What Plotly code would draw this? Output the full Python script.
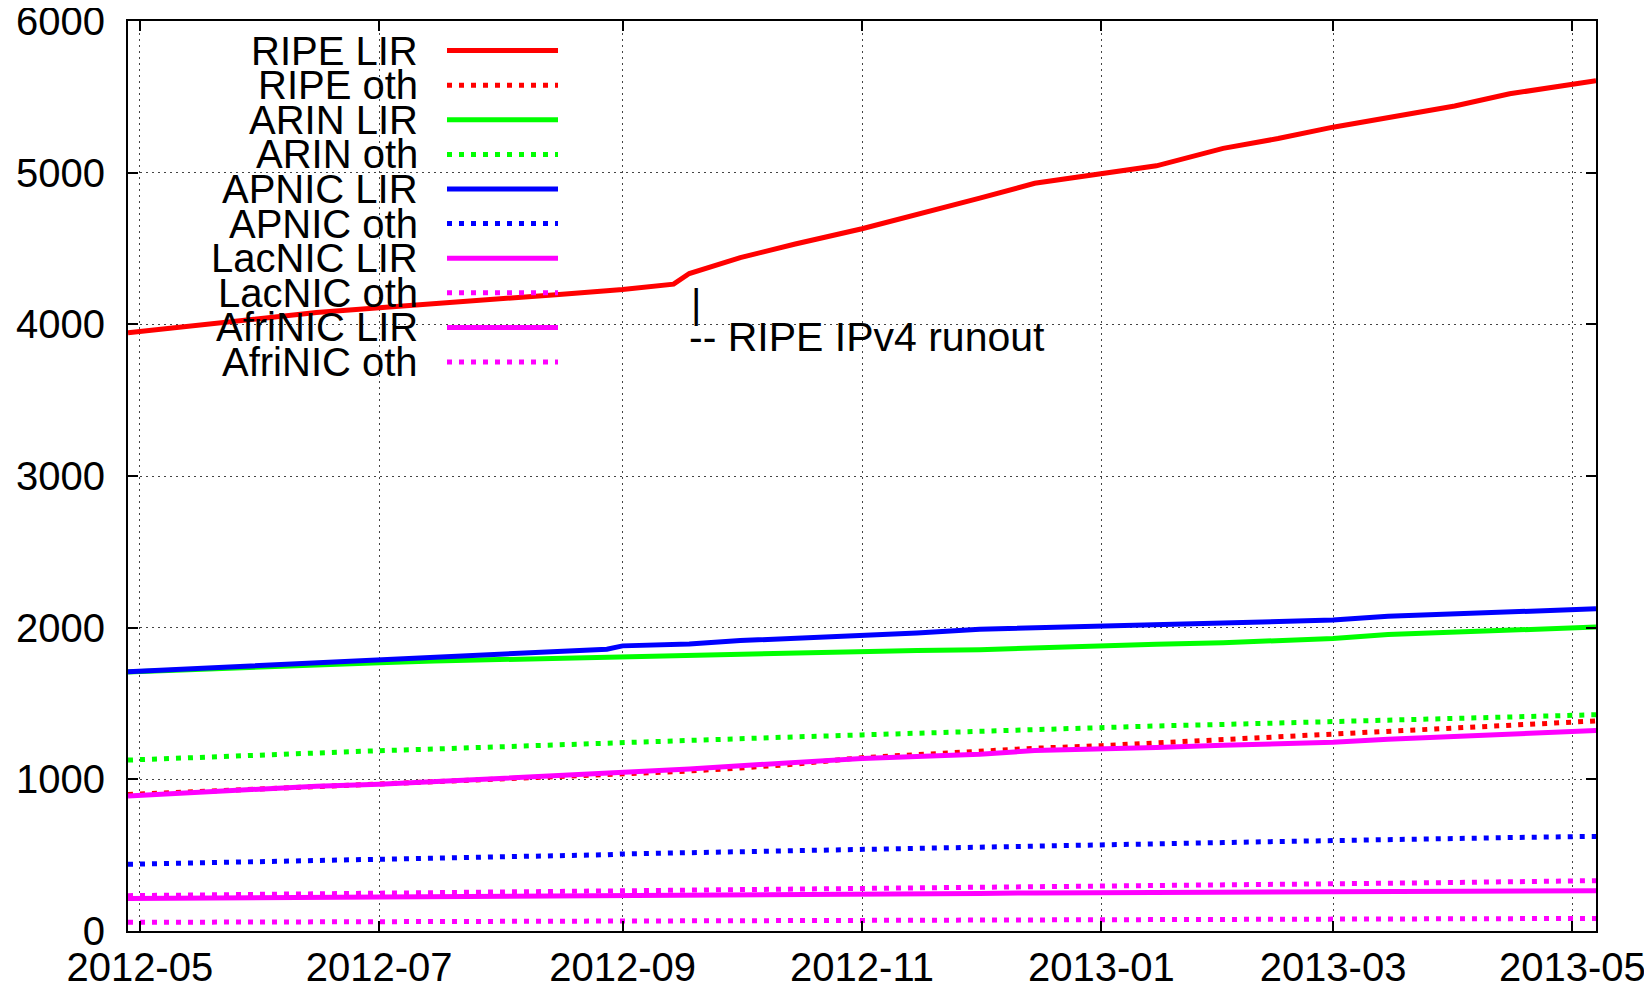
import plotly.graph_objects as go

dates = ["2012-04-28", "2012-05-15", "2012-06-01", "2012-06-15", "2012-07-01", "2012-07-15",
         "2012-08-01", "2012-08-15", "2012-08-28", "2012-09-01", "2012-09-14", "2012-09-18",
         "2012-10-01", "2012-10-15", "2012-11-01", "2012-11-15", "2012-12-01", "2012-12-15",
         "2013-01-01", "2013-01-15", "2013-02-01", "2013-02-15", "2013-03-01", "2013-03-15",
         "2013-04-01", "2013-04-15", "2013-05-01", "2013-05-07"]

ripe_lir = [3945, 3990, 4035, 4078, 4110, 4135, 4170, 4195, 4222, 4230, 4265, 4335, 4440, 4530,
            4630, 4722, 4832, 4930, 4990, 5045, 5160, 5225, 5300, 5365, 5440, 5520, 5588, 5606]
ripe_oth = [900, 918, 940, 952, 970, 985, 1000, 1015, 1032, 1038, 1050, 1055, 1075, 1100,
            1143, 1165, 1185, 1205, 1222, 1240, 1260, 1280, 1299, 1320, 1340, 1360, 1380, 1385]
arin_lir = [1708, 1725, 1745, 1755, 1769, 1780, 1790, 1800, 1806, 1808, 1812, 1814, 1825, 1835,
            1846, 1850, 1855, 1868, 1881, 1890, 1900, 1912, 1929, 1955, 1972, 1985, 2002, 2004]
arin_oth = [1127, 1145, 1162, 1172, 1189, 1200, 1215, 1230, 1244, 1248, 1256, 1258, 1268, 1280,
            1293, 1305, 1318, 1330, 1343, 1352, 1362, 1372, 1384, 1395, 1405, 1412, 1424, 1426]
apnic_lir = [1710, 1730, 1755, 1768, 1790, 1805, 1825, 1845, 1858, 1880, 1890, 1893, 1915, 1930,
             1951, 1965, 1990, 2000, 2006, 2015, 2030, 2040, 2050, 2075, 2090, 2105, 2121, 2124]
apnic_oth = [440, 448, 455, 460, 468, 475, 485, 495, 503, 508, 515, 518, 525, 530,
             538, 545, 552, 560, 567, 575, 583, 590, 598, 605, 612, 616, 622, 623]
lacnic_lir = [890, 912, 940, 955, 967, 985, 1005, 1020, 1040, 1050, 1065, 1068, 1090, 1112,
              1138, 1150, 1165, 1190, 1198, 1210, 1225, 1235, 1244, 1265, 1285, 1300, 1320, 1322]
lacnic_oth = [233, 237, 241, 244, 248, 252, 257, 262, 265, 266, 270, 271, 276, 279,
              283, 287, 291, 294, 297, 300, 303, 306, 310, 315, 320, 325, 330, 332]
afrinic_lir = [215, 217, 220, 223, 226, 229, 232, 235, 237, 237, 239, 239, 241, 242,
               243, 246, 248, 251, 253, 254, 256, 258, 259, 261, 263, 264, 266, 266]
afrinic_oth = [57, 58, 59, 60, 61, 63, 64, 66, 67, 68, 68, 69, 70, 71,
               72, 72, 72, 72, 72, 74, 75, 77, 78, 80, 81, 82, 83, 83]

x_ticks = ["2012-05-01", "2012-07-01", "2012-09-01", "2012-11-01", "2013-01-01", "2013-03-01", "2013-05-01"]
x_tick_labels = ["2012-05", "2012-07", "2012-09", "2012-11", "2013-01", "2013-03", "2013-05"]
y_ticks = [0, 1000, 2000, 3000, 4000, 5000, 6000]

RED, GREEN, BLUE, MAG = "#ff0000", "#00ff00", "#0000ff", "#ff00ff"
DOT = "5px,7px"
series = [
    ("RIPE LIR", ripe_lir, RED, "solid"),
    ("RIPE oth", ripe_oth, RED, DOT),
    ("ARIN LIR", arin_lir, GREEN, "solid"),
    ("ARIN oth", arin_oth, GREEN, DOT),
    ("APNIC LIR", apnic_lir, BLUE, "solid"),
    ("APNIC oth", apnic_oth, BLUE, DOT),
    ("LacNIC LIR", lacnic_lir, MAG, "solid"),
    ("LacNIC oth", lacnic_oth, MAG, DOT),
    ("AfriNIC LIR", afrinic_lir, MAG, "solid"),
    ("AfriNIC oth", afrinic_oth, MAG, DOT),
]

FONT = "Liberation Sans, Arial, sans-serif"
BODY = 8  # default page margin around the plot div
PAGE_W, PAGE_H = 1652, 993
W, H = PAGE_W - 2 * BODY, PAGE_H - 2 * BODY
# target plot area in page pixels: left 128, right 1596, top 21, bottom 931
ML, MR, MT, MB = 128 - BODY, PAGE_W - 1596 - BODY, 21 - BODY, PAGE_H - 931 - BODY
PW, PH = W - ML - MR, H - MT - MB

def px(xpage):
    return (xpage - BODY - ML) / PW

def py(ypage):
    return (H - MB - (ypage - BODY)) / PH

fig = go.Figure()
for name, vals, col, dash in series:
    fig.add_trace(go.Scatter(x=dates, y=vals, mode="lines", name=name,
                             line=dict(color=col, width=5, dash=dash), showlegend=False))

shapes = []
annotations = []
# opaque legend box (between gridlines and traces)
shapes.append(dict(type="rect", xref="paper", yref="paper", layer="between",
                   x0=px(150), x1=px(584), y0=py(378), y1=py(33),
                   fillcolor="white", line=dict(width=0)))
for i, (name, vals, col, dash) in enumerate(series):
    yf = 50.6 + i * 34.6
    shapes.append(dict(type="line", xref="paper", yref="paper", layer="above",
                       x0=px(447), x1=px(558), y0=py(yf), y1=py(yf),
                       line=dict(color=col, width=5, dash=dash)))
    annotations.append(dict(text=name, xref="paper", yref="paper", x=px(420), y=py(yf),
                            xanchor="right", yanchor="middle", showarrow=False,
                            font=dict(family=FONT, size=40, color="black")))

annotations.append(dict(text="|", x="2012-09-18", y=4133, xanchor="left", yanchor="middle",
                        showarrow=False, font=dict(family=FONT, size=40, color="black")))
annotations.append(dict(text="-- RIPE IPv4 runout", x="2012-09-18", y=3915, xanchor="left",
                        yanchor="middle", showarrow=False, xshift=-2,
                        font=dict(family=FONT, size=41, color="black")))

axis_common = dict(
    ticks="inside", ticklen=10, tickwidth=2, tickcolor="black",
    showline=True, linewidth=2, linecolor="black", mirror="ticks",
    showgrid=True, gridcolor="#444444", gridwidth=1, griddash="2px,4px",
    zeroline=False, ticklabeloverflow="allow", automargin=False,
    tickfont=dict(family=FONT, size=40, color="black"),
)

fig.update_layout(
    template="none",
    width=W, height=H,
    margin=dict(l=ML, r=MR, t=MT, b=MB, pad=0, autoexpand=False),
    paper_bgcolor="white", plot_bgcolor="white",
    shapes=shapes, annotations=annotations,
    font=dict(family=FONT, size=40, color="black"),
    xaxis=dict(type="date", range=["2012-04-28", "2013-05-07"],
               tickvals=x_ticks, ticktext=x_tick_labels, ticklabelstandoff=0,
               **axis_common),
    yaxis=dict(range=[0, 6000], tickvals=y_ticks, ticklabelstandoff=13,
               **axis_common),
)

fig.write_html("out.html")
